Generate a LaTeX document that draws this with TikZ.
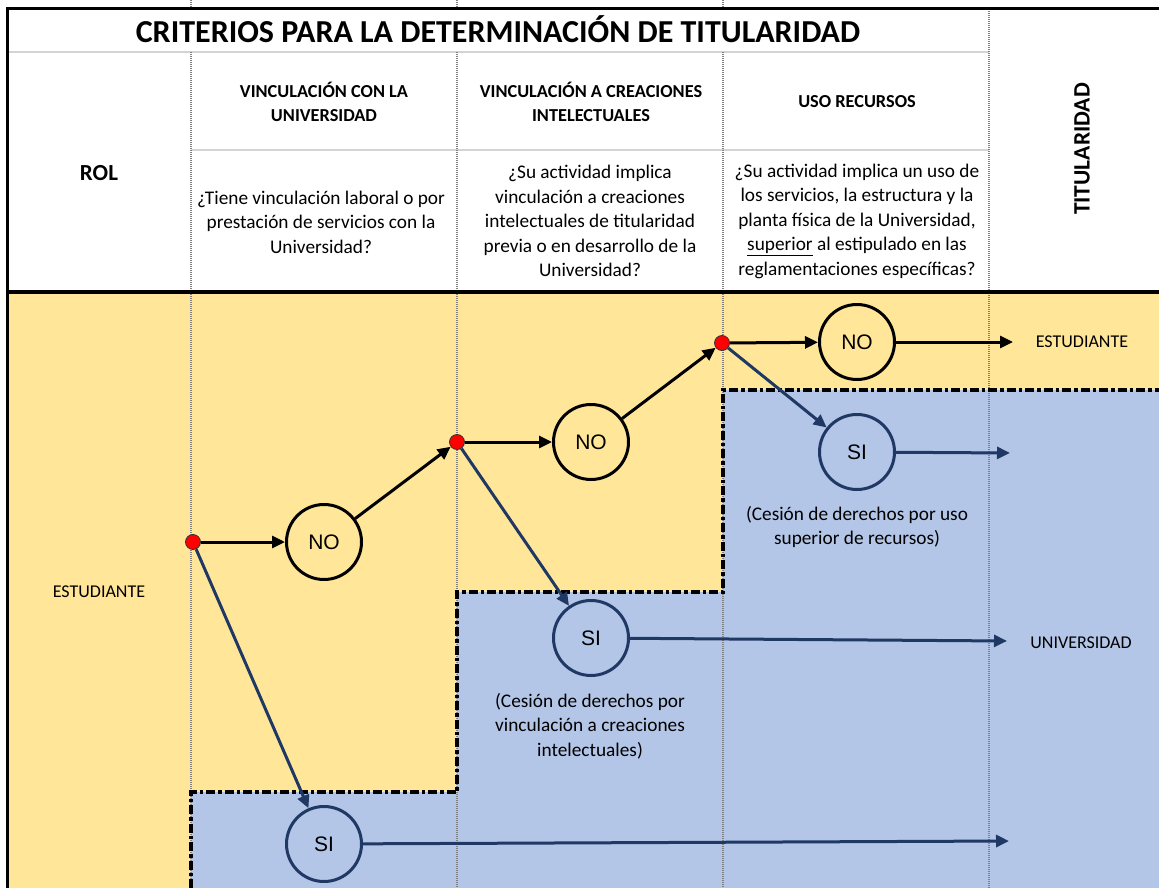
\documentclass[tikz,border=0pt]{standalone}
\usepackage{fontspec}
\setmainfont{Carlito}
\newfontfamily\arialf{Liberation Sans}
\usetikzlibrary{arrows.meta}
\definecolor{ylw}{HTML}{FFE699}
\definecolor{blu}{HTML}{B4C6E7}
\definecolor{navy}{HTML}{203864}
\definecolor{gline}{HTML}{D4D4D4}
\definecolor{grid}{HTML}{808080}
\tikzset{
  gridln/.style={grid, line width=1.4pt, dash pattern=on 1pt off 1pt},
  hdrln/.style={gline, line width=2.5pt},
  frame/.style={black, line width=3pt},
  stair/.style={black, line width=4pt, dash pattern=on 9pt off 3pt on 3.5pt off 3pt},
  reddot/.style={circle, fill=red, draw=black!80, line width=0.8pt, minimum size=15pt, inner sep=0pt},
  nocirc/.style={circle, draw=black, line width=3pt, minimum size=75pt, inner sep=0pt, font=\arialf\fontsize{21}{24}\selectfont},
  sicirc/.style={circle, draw=navy, fill=blu, line width=3pt, minimum size=75pt, inner sep=0pt, font=\arialf\fontsize{21}{24}\selectfont},
  blkarr/.style={black, line width=3pt, -{Triangle[length=13pt,width=12pt]}},
  bluarr/.style={navy, line width=3pt, -{Triangle[length=13pt,width=12pt]}},
  hdrtxt/.style={align=center, font=\bfseries\fontsize{18.3}{24}\selectfont},
  qtxt/.style={align=center, font=\fontsize{19.3}{24.5}\selectfont},
  lbl/.style={font=\fontsize{18}{21}\selectfont},
}
\begin{document}
\begin{tikzpicture}[x=1pt,y=-1pt]
\useasboundingbox (0,0) rectangle (1159,888);
\fill[white] (0,0) rectangle (1159,888);
% backgrounds
\fill[ylw] (7,291) rectangle (1159,888);
\fill[blu] (191,888) -- (191,792) -- (457,792) -- (457,592) -- (723,592) -- (723,390) -- (1159,390) -- (1159,888) -- cycle;
% header inner lines
\draw[hdrln] (7,52) -- (989,52);
\draw[hdrln] (191,150) -- (989,150);
% grid lines
\foreach \gx in {191,457,723} {
  \draw[gridln] (\gx,0) -- (\gx,9);
  \draw[gridln] (\gx,52) -- (\gx,888);
}
\draw[gridln] (989,9) -- (989,888);
% frame
\draw[frame] (7,888) -- (7,9) -- (1159,9);
\draw[black, line width=4pt] (7,291.5) -- (1159,291.5);
% staircase border
\draw[stair] (191,888) -- (191,792) -- (457,792) -- (457,592) -- (723,592) -- (723,390) -- (1159,390);
% header texts
\node[font=\bfseries\fontsize{32}{36}\selectfont, anchor=base] (title) at (498,43) {CRITERIOS PARA LA DETERMINACIÓN DE TITULARIDAD};
\node[font=\bfseries\fontsize{23}{28}\selectfont] (rol) at (99,173) {ROL};
\node[font=\bfseries\fontsize{23.5}{28}\selectfont, rotate=90] (tit) at (1082,149) {TITULARIDAD};
\node[hdrtxt] (h1) at (324,102) {VINCULACIÓN CON LA\\UNIVERSIDAD};
\node[hdrtxt] (h2) at (591,102) {VINCULACIÓN A CREACIONES\\INTELECTUALES};
\node[hdrtxt] (h3) at (857,102) {USO RECURSOS};
\node[qtxt] (q1) at (321,222) {¿Tiene vinculación laboral o por\\prestación de servicios con la\\Universidad?};
\node[qtxt] (q2) at (590,221) {¿Su actividad implica\\vinculación a creaciones\\intelectuales de titularidad\\previa o en desarrollo de la\\Universidad?};
\node[qtxt] (q3) at (857,221) {¿Su actividad implica un uso de\\los servicios, la estructura y la\\planta física de la Universidad,\\\underline{superior} al estipulado en las\\reglamentaciones específicas?};
% labels
\node[lbl] (lestud) at (99,592) {ESTUDIANTE};
\node[lbl] (restud) at (1082,342) {ESTUDIANTE};
\node[lbl] (runiv) at (1081,643) {UNIVERSIDAD};
% circles
\node[nocirc] (n1) at (324,542) {NO};
\node[nocirc] (n2) at (591,442) {NO};
\node[nocirc] (n3) at (857,342) {NO};
\node[sicirc] (s1) at (324,844) {SI};
\node[sicirc] (s2) at (591,638) {SI};
\node[sicirc] (s3) at (857,452) {SI};
% notes
\node[qtxt] (nt2) at (590,726) {(Cesión de derechos por\\vinculación a creaciones\\intelectuales)};
\node[qtxt] (nt3) at (857,527) {(Cesión de derechos por uso\\superior de recursos)};
% end points
\coordinate (e3) at (1013,342);
\coordinate (e3b) at (1010,453);
\coordinate (e2) at (1007,641);
\coordinate (e1) at (1009,841);
% blue arrows
\draw[bluarr] (s3) -- (e3b);
\draw[bluarr] (s2) -- (e2);
\draw[bluarr] (s1) -- (e1);
% red dots
\node[reddot] (d1) at (193,542) {};
\node[reddot] (d2) at (457,442) {};
\node[reddot] (d3) at (722,343) {};
% arrows
\draw[bluarr] (d1) -- (s1);
\draw[bluarr] (d2) -- (s2);
\draw[bluarr] (d3) -- (s3);
\draw[blkarr] (d1) -- (n1);
\draw[blkarr] (n1) -- (d2);
\draw[blkarr] (d2) -- (n2);
\draw[blkarr] (n2) -- (d3);
\draw[blkarr] (d3) -- (n3);
\draw[blkarr] (n3) -- (e3);
\end{tikzpicture}
\end{document}
